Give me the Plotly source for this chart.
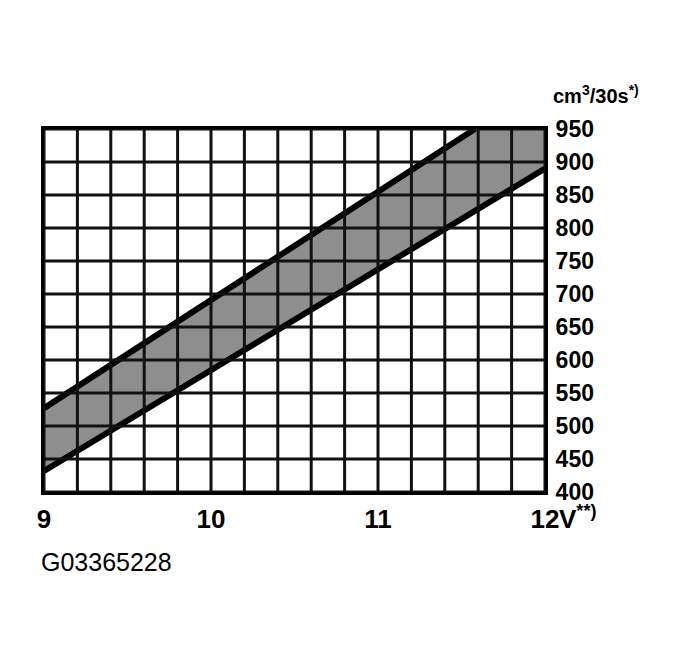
import plotly.graph_objects as go

# Data
volts_ticks = [9, 10, 11, 12]
volts_tick_text = ["9", "10", "11", "12"]
flow_ticks = [400, 450, 500, 550, 600, 650, 700, 750, 800, 850, 900, 950]

upper_x = [9.0, 11.58]
upper_y = [527, 950]
lower_x = [9.0, 12.0]
lower_y = [432, 890]

x_min, x_max, x_step = 9.0, 12.0, 0.2
y_min, y_max, y_step = 400, 950, 50

band_x = upper_x + [x_max, x_max] + lower_x[::-1]
band_y = upper_y + [y_max, lower_y[1]] + lower_y[::-1]

FONT = "Liberation Sans"

fig = go.Figure()
fig.add_trace(go.Scatter(
    x=band_x, y=band_y, fill="toself", mode="none",
    fillcolor="#8e8e8e", hoverinfo="skip", showlegend=False))
fig.add_trace(go.Scatter(
    x=upper_x, y=upper_y, mode="lines",
    line=dict(color="black", width=6), showlegend=False))
fig.add_trace(go.Scatter(
    x=lower_x, y=lower_y, mode="lines",
    line=dict(color="black", width=6), showlegend=False))

shapes = []
n_x = int(round((x_max - x_min) / x_step))
for i in range(n_x + 1):
    xv = x_min + i * x_step
    shapes.append(dict(type="line", xref="x", yref="y", x0=xv, x1=xv,
                       y0=y_min, y1=y_max, layer="above",
                       line=dict(color="#111111", width=3)))
for yv in flow_ticks:
    shapes.append(dict(type="line", xref="x", yref="y", x0=x_min, x1=x_max,
                       y0=yv, y1=yv, layer="above",
                       line=dict(color="#111111", width=3)))

fig.update_layout(
    width=692, height=648,
    margin=dict(l=36, r=155, t=121, b=164),
    paper_bgcolor="white", plot_bgcolor="white",
    shapes=shapes,
    xaxis=dict(range=[x_min, x_max], tickvals=volts_ticks, ticktext=volts_tick_text,
               showgrid=False, zeroline=False, ticks="",
               showline=True, mirror=True, linecolor="black", linewidth=3,
               ticklabelstandoff=2,
               tickfont=dict(family=FONT, size=26, color="black", weight="bold")),
    yaxis=dict(range=[y_min, y_max], tickvals=flow_ticks, side="right",
               showgrid=False, zeroline=False, ticks="",
               showline=True, mirror=True, linecolor="black", linewidth=3,
               ticklabelstandoff=3,
               tickfont=dict(family=FONT, size=23, color="black", weight="bold")),
    annotations=[
        dict(text="V<sup>**)</sup>", xref="x", yref="paper", x=12, y=0,
             xanchor="left", yanchor="top", xshift=12, yshift=-7, showarrow=False,
             font=dict(family=FONT, size=26, color="black", weight="bold")),
        dict(text="cm<sup>3</sup>/30s<sup>*)</sup>", xref="paper", yref="paper",
             x=1, y=1, xanchor="left", yanchor="bottom", xshift=6, yshift=20,
             showarrow=False,
             font=dict(family=FONT, size=20, color="black", weight="bold")),
        dict(text="G03365228", xref="paper", yref="paper", x=0, y=0,
             xanchor="left", yanchor="middle", xshift=-5, yshift=-70,
             showarrow=False,
             font=dict(family=FONT, size=25, color="black")),
    ],
)

fig.write_html("out.html")
